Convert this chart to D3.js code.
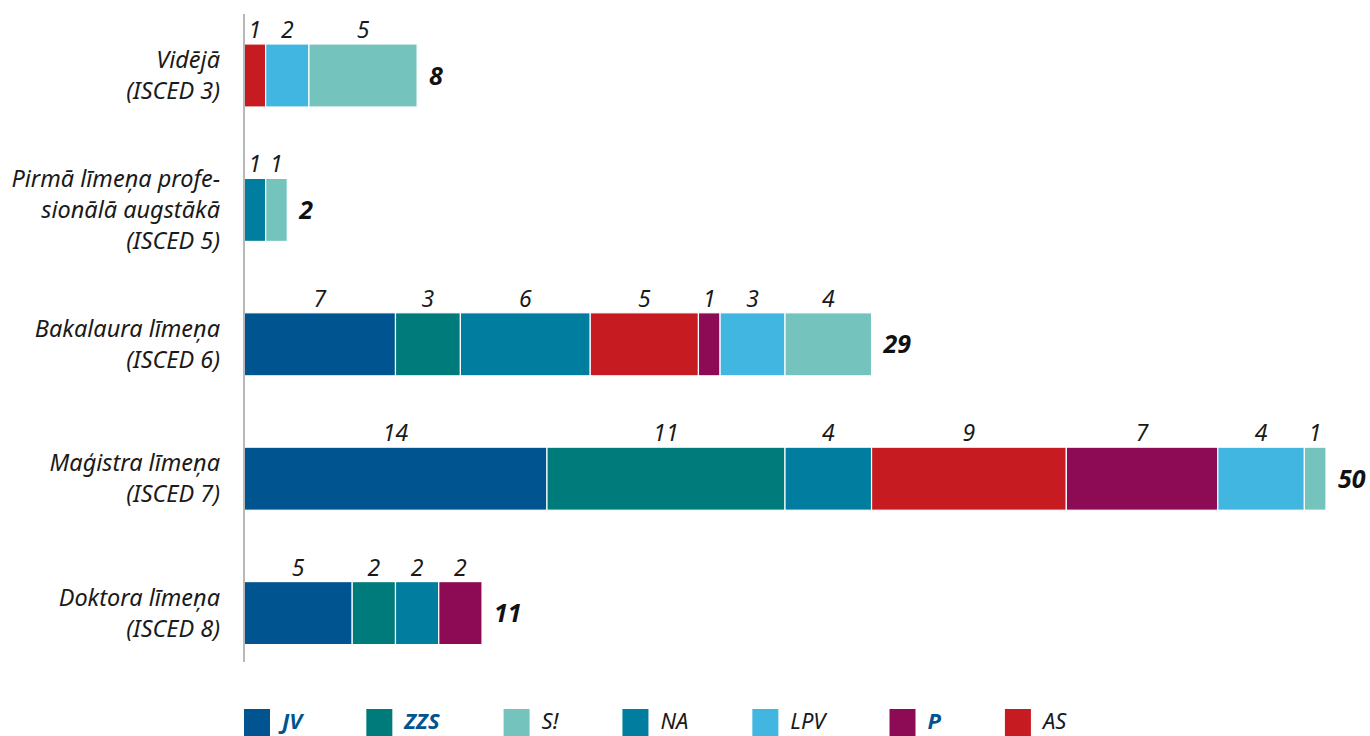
<!DOCTYPE html>
<html><head><meta charset="utf-8">
<script src="https://cdn.jsdelivr.net/npm/d3@7"></script>
<style>
body{margin:0;background:#fff;}
svg{display:block;font-family:"Noto Sans",sans-serif;}
</style></head>
<body>
<svg id="chart" width="1370" height="736"></svg>
<script>
const categories = [
  ["Vidējā", "(ISCED 3)"],
  ["Pirmā līmeņa profe-", "sionālā augstākā", "(ISCED 5)"],
  ["Bakalaura līmeņa", "(ISCED 6)"],
  ["Maģistra līmeņa", "(ISCED 7)"],
  ["Doktora līmeņa", "(ISCED 8)"]
];
const stackOrder = ["JV", "ZZS", "NA", "AS", "P", "LPV", "S!"];
const legendOrder = ["JV", "ZZS", "S!", "NA", "LPV", "P", "AS"];
const JV  = [0, 0, 7, 14, 5];
const ZZS = [0, 0, 3, 11, 2];
const NA  = [0, 1, 6, 4, 2];
const AS  = [1, 0, 5, 9, 0];
const P   = [0, 0, 1, 7, 2];
const LPV = [2, 0, 3, 4, 0];
const S   = [5, 1, 4, 1, 0];
const seriesValues = {JV, ZZS, NA, AS, P, LPV, "S!": S};
const colors = {JV:"#00548f", ZZS:"#007b7b", "S!":"#75c3bd", NA:"#007d9f", LPV:"#41b6e0", P:"#8d0b55", AS:"#c71b22"};
const boldLegend = {JV:true, ZZS:true, P:true};

const svg = d3.select("#chart");
const x0 = 244;
const x = d3.scaleLinear().domain([0, 50]).range([x0, 1326]);
const catKeys = categories.map((c, i) => i);
const y = d3.scaleBand().domain(catKeys).range([8.3, 680.3]).paddingInner(0.531).paddingOuter(0.2655);

const rows = catKeys.map(i => {
  const r = {idx: i};
  stackOrder.forEach(k => r[k] = seriesValues[k][i]);
  return r;
});
const stacked = d3.stack().keys(stackOrder)(rows);

const g = svg.append("g");
stacked.forEach(layer => {
  const key = layer.key;
  layer.forEach((d, i) => {
    const v = d[1] - d[0];
    if (v <= 0) return;
    g.append("rect")
      .attr("x", x(d[0])).attr("y", y(i))
      .attr("width", x(d[1]) - x(d[0])).attr("height", y.bandwidth())
      .attr("fill", colors[key]).attr("stroke", "#fff").attr("stroke-width", 1.2);
    g.append("text")
      .attr("x", (x(d[0]) + x(d[1])) / 2).attr("y", y(i) - 6)
      .attr("text-anchor", "middle").attr("font-style", "italic")
      .attr("font-size", 23).attr("fill", "#1a1a1a")
      .text(v);
  });
});

// totals
rows.forEach((r, i) => {
  const tot = d3.sum(stackOrder, k => r[k]);
  svg.append("text")
    .attr("x", x(tot) + 12).attr("y", y(i) + y.bandwidth() / 2 + 9)
    .attr("font-style", "italic").attr("font-weight", "bold")
    .attr("font-size", 25).attr("fill", "#111")
    .text(tot);
});

// axis line
svg.append("line").attr("x1", x0).attr("x2", x0).attr("y1", 14).attr("y2", 662)
  .attr("stroke", "#b8b8b8").attr("stroke-width", 2);

// category labels
categories.forEach((lines, i) => {
  const cy = y(i) + y.bandwidth() / 2;
  const lh = 31;
  const start = cy - (lines.length - 1) * lh / 2 + 8;
  const t = svg.append("text").attr("text-anchor", "end")
    .attr("font-style", "italic").attr("font-size", 23.5).attr("fill", "#1a1a1a");
  lines.forEach((ln, j) => {
    t.append("tspan").attr("x", 220).attr("y", start + j * lh).text(ln);
  });
});

// legend
let lx = 244;
legendOrder.forEach(k => {
  svg.append("rect").attr("x", lx).attr("y", 709).attr("width", 26).attr("height", 27).attr("fill", colors[k]);
  const t = svg.append("text").attr("x", lx + 38).attr("y", 729)
    .attr("font-style", "italic").attr("font-size", 22)
    .attr("font-weight", boldLegend[k] ? "bold" : "normal")
    .attr("fill", boldLegend[k] ? "#00548f" : "#1a1a1a").text(k);
  lx += 26 + 12 + t.node().getComputedTextLength() + 64;
});
</script>
</body></html>
